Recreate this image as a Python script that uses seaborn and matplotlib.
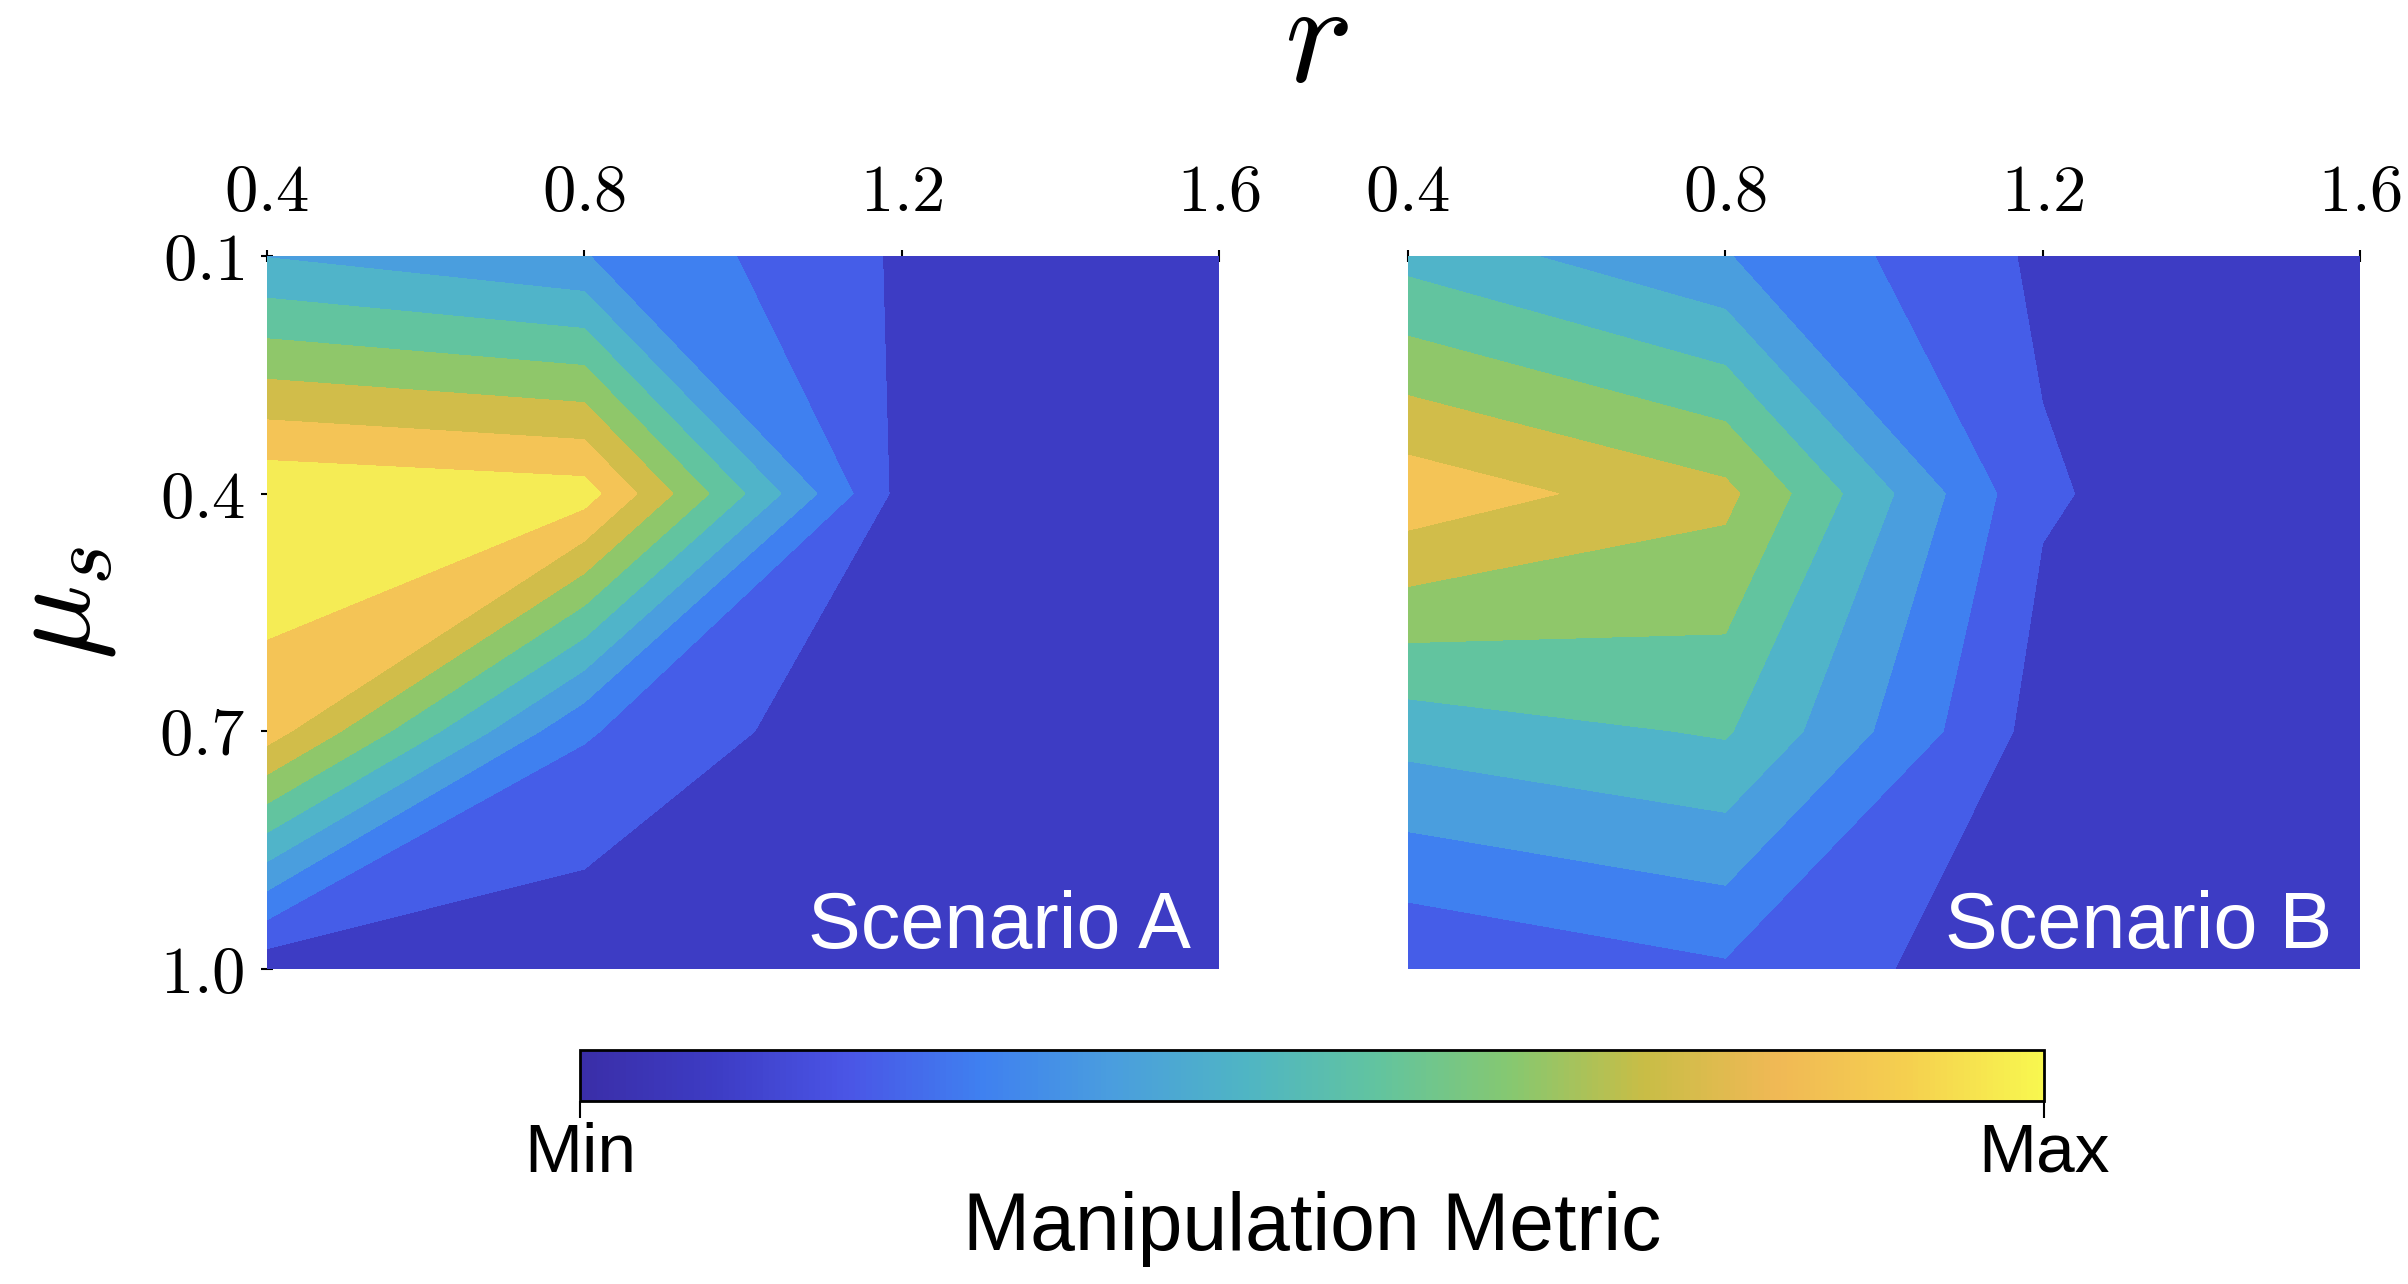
import numpy as np
import matplotlib
matplotlib.use("Agg")
import matplotlib.pyplot as plt
import seaborn as sns
from matplotlib.colors import Normalize
from matplotlib.cm import ScalarMappable

# grid of the two parameter sweeps
r_values = [0.4, 0.8, 1.2, 1.6]
mu_values = [0.1, 0.4, 0.7, 1.0]
r_tick_labels = ["0.4", "0.8", "1.2", "1.6"]
mu_tick_labels = ["0.1", "0.4", "0.7", "1.0"]

# normalised manipulation metric, rows = mu_s, columns = r
metric_a = [
    [0.396, 0.304, 0.087, 0.000],
    [0.982, 0.946, 0.065, 0.000],
    [0.848, 0.210, 0.005, 0.000],
    [0.030, 0.020, 0.000, 0.000],
]
metric_b = [
    [0.465, 0.305, 0.082, 0.000],
    [0.865, 0.728, 0.111, 0.002],
    [0.442, 0.511, 0.058, 0.000],
    [0.105, 0.185, 0.026, 0.000],
]
scenario_names = ["Scenario A", "Scenario B"]

# parula-like colours: one per filled band, plus the continuous colorbar ramp
band_colors = ["#3d3cc4", "#455de8", "#3f80f0", "#4a9ede", "#50b4c9",
               "#62c49f", "#8fc76a", "#d1bd4a", "#f4c456", "#f5ec55"]
ramp_colors = ["#3a2ea8", "#3d3cc4", "#4a55e6", "#3f80f0", "#4a9ede",
               "#4fb5c4", "#62c49f", "#86c870", "#c8bd46", "#f0b955",
               "#f5d04f", "#f8f74f"]

sns.set_theme(style="white")
plt.rcParams["mathtext.fontset"] = "cm"
plt.rcParams["font.family"] = ["Liberation Sans", "DejaVu Sans"]
plt.rcParams["text.color"] = "black"
plt.rcParams["axes.labelcolor"] = "black"
plt.rcParams["xtick.color"] = "black"
plt.rcParams["ytick.color"] = "black"

fig = plt.figure(figsize=(24.08, 12.84), dpi=100)
levels = np.linspace(0, 1, 11)
panels = [(0.1109, metric_a), (0.5847, metric_b)]

for i, (left, metric) in enumerate(panels):
    ax = fig.add_axes([left, 0.2453, 0.3953, 0.5553])
    ax.contourf(r_values, mu_values, np.array(metric), levels=levels,
                colors=band_colors)
    ax.set_xlim(0.4, 1.6)
    ax.set_ylim(1.0, 0.1)
    ax.xaxis.tick_top()
    ax.set_xticks(r_values, labels=[f"${t}$" for t in r_tick_labels])
    ax.set_yticks(mu_values, labels=[f"${t}$" for t in mu_tick_labels])
    ax.tick_params(axis="x", direction="inout", length=8, width=1.5,
                   pad=18, labelsize=48, top=True, bottom=False)
    ax.tick_params(axis="y", direction="inout", length=8, width=1.5,
                   pad=12, labelsize=48, left=(i == 0))
    if i == 1:
        ax.set_yticklabels([])
        ax.tick_params(axis="y", left=False)
    for s in ax.spines.values():
        s.set_visible(False)
    ax.text(0.971, 0.03, scenario_names[i], transform=ax.transAxes,
            ha="right", va="baseline", color="white", fontsize=57)

fig.text(0.5465, 0.937, "$r$", ha="center", va="baseline", fontsize=104)
fig.text(0.025, 0.53, r"$\mu_s$", ha="center", va="center", rotation=90,
         fontsize=90)

cax = fig.add_axes([0.2409, 0.1425, 0.6080, 0.0397])
ramp = sns.blend_palette(ramp_colors, n_colors=256, as_cmap=True)
cbar = fig.colorbar(ScalarMappable(norm=Normalize(0, 1), cmap=ramp),
                    cax=cax, orientation="horizontal", ticks=[0, 1])
cbar.set_ticklabels(["Min", "Max"])
cbar.ax.tick_params(labelsize=50, length=12, width=1.5, pad=3,
                    bottom=True)
cbar.outline.set_linewidth(2)
cbar.outline.set_edgecolor("black")
cbar.set_label("Manipulation Metric", fontsize=58, labelpad=4)

fig.savefig("out.png", dpi=100)
